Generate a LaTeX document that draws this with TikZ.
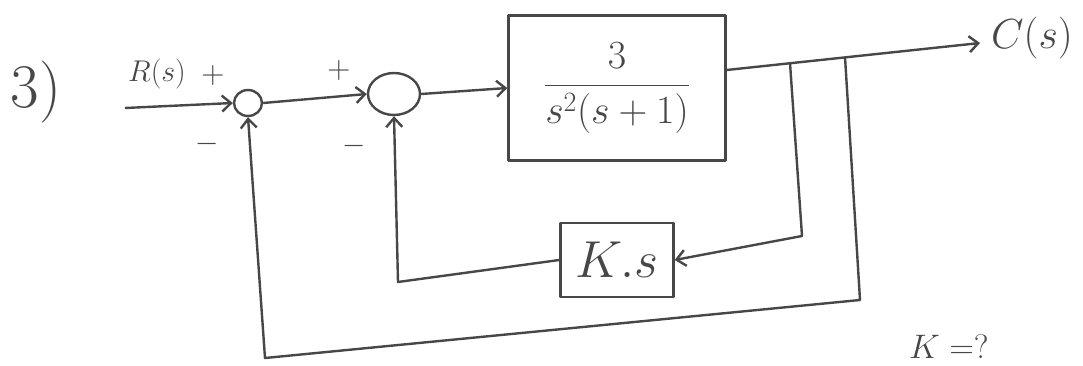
\RequirePackage{fix-cm}
\documentclass[tikz,border=0pt]{standalone}
\usepackage{amsmath}
\usetikzlibrary{shapes.geometric,arrows.meta,positioning}

\begin{document}
\begin{tikzpicture}[x=1pt,y=-1pt,line width=2.4pt,color=black!72,line join=round,
    sumnode/.style={draw,ellipse,inner sep=0pt},
    blk/.style={draw,rectangle,inner sep=0pt},
    sig/.style={-{Straight Barb[length=9pt,width=16pt]}},
    lbl/.style={inner sep=0pt}]
  \useasboundingbox (0,0) rectangle (1083,366);

  % summing points and blocks
  \node[sumnode,minimum width=28pt,minimum height=26pt] (sum1) at (248,103) {};
  \node[sumnode,minimum width=52pt,minimum height=42pt] (sum2) at (394,94) {};
  \node[blk,minimum width=217pt,minimum height=145pt] (plant) at (617,88)
    {\fontsize{40}{44}\selectfont $\dfrac{3}{s^2(s+1)}$};
  \node[blk,minimum width=113pt,minimum height=74pt] (fbk) at (617,260)
    {\fontsize{52}{56}\selectfont $K.s$};

  % labels
  \node[lbl,font=\fontsize{62}{64}\selectfont] (qno) at (36,92) {3)};
  \node[lbl,font=\fontsize{30}{32}\selectfont] (rlbl) at (157,74) {$R(s)$};
  \node[lbl,font=\fontsize{32}{34}\selectfont] (p1) at (213,76) {$+$};
  \node[lbl,font=\fontsize{32}{34}\selectfont] (p2) at (339,71) {$+$};
  \node[lbl,font=\fontsize{30}{32}\selectfont] (m1) at (207,144) {$-$};
  \node[lbl,font=\fontsize{30}{32}\selectfont] (m2) at (354,146) {$-$};
  \node[lbl,anchor=west,font=\fontsize{42}{44}\selectfont] (clbl) at (990,38) {$C(s)$};
  \node[lbl,anchor=north west,font=\fontsize{34}{36}\selectfont] (ask) at (908,334) {$K=?$};

  % forward path
  \coordinate (rin) at (125,108);
  \coordinate (cout) at (980,43);
  \coordinate (tap1) at (790,63);
  \coordinate (tap2) at (845,57);
  \draw[sig] (rin) -- (sum1.west);
  \draw[sig] (sum1.east) -- (sum2.west);
  \draw[sig] (sum2.east) -- (plant.west);
  \draw[sig] ([yshift=18pt]plant.east) -- (cout);

  % rate feedback
  \coordinate (k1) at (802,236);
  \coordinate (k2) at (398,282);
  \draw[sig] (tap1) -- (k1) -- (fbk.east);
  \draw[sig] (fbk.west) -- (k2) -- (sum2.south);

  % unity feedback
  \coordinate (u1) at (860,300);
  \coordinate (u2) at (265,358);
  \draw[sig] (tap2) -- (u1) -- (u2) -- (sum1.south);
\end{tikzpicture}
\end{document}
